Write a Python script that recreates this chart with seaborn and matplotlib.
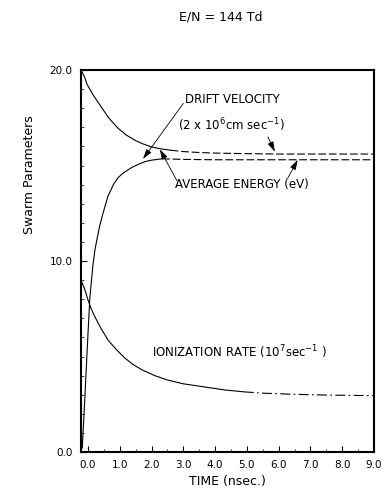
import numpy as np
import pandas as pd
import matplotlib
matplotlib.use("Agg")
import matplotlib.pyplot as plt
import seaborn as sns
from matplotlib.ticker import MultipleLocator

# ---- data ----
drift_t = [-0.22, -0.1, -0.03, 0.16, 0.38, 0.65, 0.94, 1.2, 1.5, 1.7, 2.0, 2.3, 2.6,
           3.0, 3.5, 4.0, 5.0, 6.0, 7.0, 8.0, 9.0]
drift_v = [20.0, 19.6, 19.25, 18.7, 18.15, 17.5, 16.96, 16.6, 16.3, 16.15, 15.97, 15.87, 15.8,
           15.73, 15.68, 15.65, 15.62, 15.6, 15.6, 15.6, 15.6]

energy_t = [-0.18, -0.1, 0.0, 0.06, 0.15, 0.22, 0.35, 0.44, 0.55, 0.63, 0.8, 0.94, 1.1, 1.38,
            1.6, 1.79, 2.0, 2.33, 3.0, 4.0, 5.0, 6.0, 7.0, 8.0, 9.0]
energy_v = [0.2, 2.8, 6.2, 8.1, 9.7, 10.6, 11.7, 12.3, 12.95, 13.4, 14.0, 14.35, 14.6, 14.9,
            15.07, 15.2, 15.28, 15.35, 15.32, 15.3, 15.3, 15.3, 15.3, 15.3, 15.3]

ion_t = [-0.22, -0.1, 0.0, 0.1, 0.22, 0.4, 0.63, 0.9, 1.16, 1.4, 1.7, 2.1, 2.5, 3.0, 3.77,
         4.3, 4.9, 5.5, 6.5, 7.5, 9.0]
ion_v = [9.0, 8.5, 7.96, 7.5, 7.07, 6.5, 5.86, 5.35, 4.92, 4.6, 4.3, 4.0, 3.77, 3.57, 3.38,
         3.25, 3.15, 3.08, 3.02, 2.98, 2.95]

x_ticks = [0, 1, 2, 3, 4, 5, 6, 7, 8, 9]
x_ticklabels = ["0.0", "1.0", "2.0", "3.0", "4.0", "5.0", "6.0", "7.0", "8.0", "9.0"]
y_ticks = [0, 10, 20]
y_ticklabels = ["0.0", "10.0", "20.0"]

title = "E/N = 144 Td"
xlabel = "TIME (nsec.)"
ylabel = "Swarm Parameters"

# index where the solid part ends and the broken part starts (shared point)
series = [
    ("drift", drift_t, drift_v, 12, (7, 2.5)),
    ("energy", energy_t, energy_v, 17, (7, 2.5)),
    ("ion", ion_t, ion_v, 16, (9, 3, 1.5, 3)),
]

sns.set_theme(style="white")
plt.rcParams["font.family"] = ["DejaVu Sans"]
plt.rcParams["mathtext.fontset"] = "dejavusans"
plt.rcParams["text.color"] = "black"
plt.rcParams["axes.labelcolor"] = "black"

fig = plt.figure(figsize=(3.86, 4.95), dpi=100)
ax = fig.add_axes([81 / 386, 1 - 452 / 495, (374 - 81) / 386, (452 - 70) / 495])

for name, t, v, split, dash in series:
    df_solid = pd.DataFrame({"t": t[: split + 1], "v": v[: split + 1]})
    df_dash = pd.DataFrame({"t": t[split:], "v": v[split:]})
    sns.lineplot(data=df_solid, x="t", y="v", ax=ax, color="black", lw=0.8,
                 estimator=None, sort=False)
    sns.lineplot(data=df_dash, x="t", y="v", ax=ax, color="black", lw=0.8,
                 estimator=None, sort=False, dashes=False,
                 linestyle=(0, dash))

ax.set_xlim(-0.22, 9.0)
ax.set_ylim(0, 20)
ax.set_xticks(x_ticks)
ax.set_xticklabels(x_ticklabels)
ax.set_yticks(y_ticks)
ax.set_yticklabels(y_ticklabels)
ax.xaxis.set_minor_locator(MultipleLocator(0.5))
ax.yaxis.set_minor_locator(MultipleLocator(1.0))
ax.tick_params(axis="both", which="major", direction="in", length=4, width=0.8,
               labelsize=7.5, colors="black", bottom=True, left=True,
               top=False, right=False, pad=6)
ax.tick_params(axis="both", which="minor", direction="in", length=2, width=0.6,
               bottom=True, left=True, top=False, right=False)
for s in ax.spines.values():
    s.set_visible(True)
    s.set_color("black")
    s.set_linewidth(1.5)

ax.set_xlabel(xlabel, fontsize=9, labelpad=3, color="black")
ax.set_ylabel(ylabel, fontsize=9, color="black")
ax.yaxis.set_label_coords(-0.155, 0.725)
fig.text(0.572, 1 - 17 / 495, title, ha="center", va="center", fontsize=9, color="black")

arrow = dict(arrowstyle="-|>,head_length=0.5,head_width=0.15", color="black", lw=0.6,
             shrinkA=0, shrinkB=0)

ax.text(3.05, 18.43, "DRIFT VELOCITY", fontsize=8.5, ha="left", va="center")
ax.text(2.83, 17.12, r"(2 x 10$^{6}$cm sec$^{-1}$)", fontsize=8.5, ha="left", va="center")
ax.annotate("", xy=(1.73, 15.34), xytext=(3.0, 18.25), arrowprops=arrow)
ax.annotate("", xy=(5.88, 15.72), xytext=(5.66, 16.5), arrowprops=arrow)

ax.text(2.74, 13.98, "AVERAGE ENERGY (eV)", fontsize=8.5, ha="left", va="center")
ax.annotate("", xy=(2.26, 15.85), xytext=(2.8, 14.2), arrowprops=arrow)
ax.annotate("", xy=(6.6, 15.3), xytext=(6.29, 14.35), arrowprops=arrow)

ax.text(2.0, 5.24, r"IONIZATION RATE (10$^{7}$sec$^{-1}$ )", fontsize=8.5,
        ha="left", va="center")

fig.savefig("out.png", dpi=100)
